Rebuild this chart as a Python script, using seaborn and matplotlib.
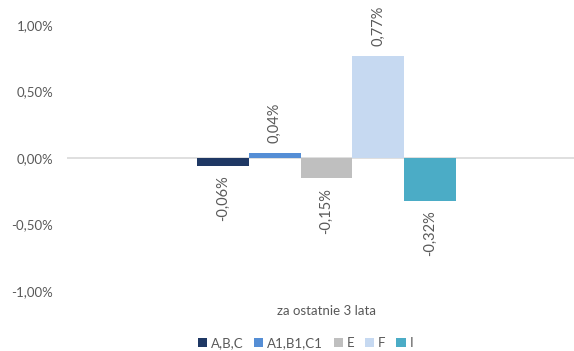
import matplotlib
matplotlib.use("Agg")
import matplotlib.pyplot as plt
import matplotlib.ticker as mticker
from matplotlib.patches import Patch
import seaborn as sns
import pandas as pd

period = ["za ostatnie 3 lata"]
series = ["A,B,C", "A1,B1,C1", "E", "F", "I"]
values = [-0.06, 0.04, -0.15, 0.77, -0.32]  # percent
colors = ["#1F3864", "#558ED5", "#BFBFBF", "#C6D9F1", "#4BACC6"]

df = pd.DataFrame({"okres": period * len(series), "seria": series, "wartosc": values})

sns.set_theme(style="white")
plt.rcParams["font.family"] = ["Lato", "DejaVu Sans"]
text_gray = "#595959"

fig = plt.figure(figsize=(5.74, 3.51), dpi=100)
ax = fig.add_axes([67 / 574, 60 / 351, 519 / 574, 266 / 351])

sns.barplot(data=df, x="okres", y="wartosc", hue="seria", hue_order=series,
            palette=colors, width=0.5, saturation=1, ax=ax, legend=False,
            edgecolor="none", linewidth=0)

ax.set_ylim(-1.0, 1.0)
ax.set_xlim(-0.5, 0.5)
ax.yaxis.set_major_locator(mticker.MultipleLocator(0.5))
ax.yaxis.set_major_formatter(mticker.FuncFormatter(lambda v, p: f"{v:.2f}%".replace(".", ",")))
ax.tick_params(axis="y", colors=text_gray, labelsize=9.5, length=0, pad=10)
ax.tick_params(axis="x", colors=text_gray, labelsize=9.5, length=0, pad=10)
ax.set_xlabel("")
ax.set_ylabel("")
for s in ax.spines.values():
    s.set_visible(False)
ax.axhline(0, color="#D9D9D9", linewidth=1.2, zorder=0.5)

# value labels, rotated, beyond the end of each bar
for bar, v in zip(ax.patches, values):
    cx = bar.get_x() + bar.get_width() / 2
    lbl = f"{v:.2f}%".replace(".", ",")
    if v >= 0:
        ax.annotate(lbl, (cx, v), xytext=(0, 7), textcoords="offset points",
                    rotation=90, ha="center", va="bottom", color=text_gray, fontsize=10.5)
    else:
        ax.annotate(lbl, (cx, v), xytext=(0, -7), textcoords="offset points",
                    rotation=90, ha="center", va="top", color=text_gray, fontsize=10.5)

handles = [Patch(facecolor=c, edgecolor="none") for c in colors]
fig.legend(handles, series, loc="center", bbox_to_anchor=(0.532, 0.023), ncol=5,
           frameon=False, fontsize=9.5, handlelength=0.7, handleheight=0.7,
           handletextpad=0.3, columnspacing=0.8, labelcolor=text_gray)

fig.savefig("out.png", dpi=100, facecolor="white")
